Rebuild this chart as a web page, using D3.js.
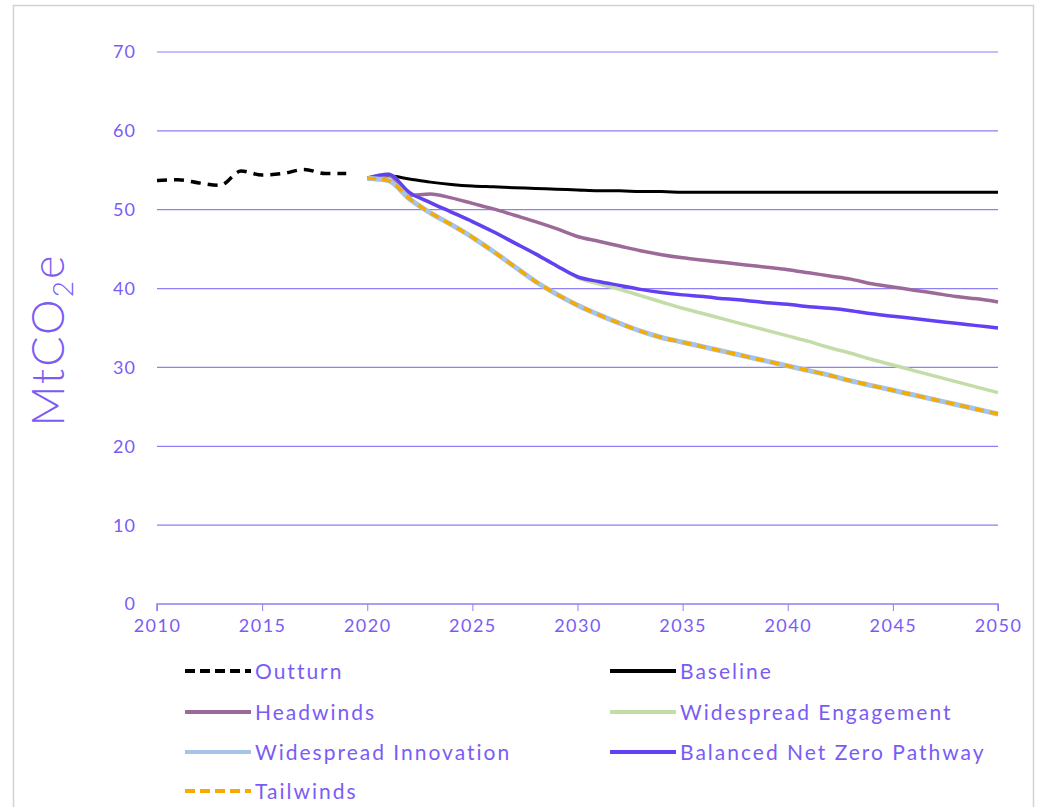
<!DOCTYPE html>
<html><head><meta charset="utf-8">
<script src="https://cdn.jsdelivr.net/npm/d3@7"></script>
<style>
html,body{margin:0;padding:0;background:#fff;}
svg{display:block;font-family:"Lato","DejaVu Sans",sans-serif;}
</style></head>
<body><svg id="c" width="1042" height="807"></svg>
<script>
const outturnYears = [2010,2011,2012,2013,2014,2015,2016,2017,2018,2019];
const outturn = [53.7,53.8,53.4,53.1,54.9,54.4,54.6,55.1,54.6,54.6];
const scenYears = d3.range(2020, 2051);
const baseline = [54.0,54.3,53.9,53.5,53.2,53.0,52.9,52.8,52.7,52.6,52.5,52.4,52.4,52.3,52.3,52.2,52.2,52.2,52.2,52.2,52.2,52.2,52.2,52.2,52.2,52.2,52.2,52.2,52.2,52.2,52.2];
const headwinds = [54.0,54.4,51.8,52.0,51.5,50.8,50.1,49.3,48.5,47.6,46.6,46.0,45.4,44.8,44.3,43.9,43.6,43.3,43.0,42.7,42.4,42.0,41.6,41.2,40.6,40.2,39.8,39.4,39.0,38.7,38.3];
const engagement = [54.0,54.5,52.2,50.9,49.7,48.5,47.2,45.8,44.4,42.9,41.4,40.6,39.9,39.1,38.3,37.5,36.8,36.1,35.4,34.7,34.0,33.3,32.5,31.8,31.0,30.3,29.6,28.9,28.2,27.5,26.8];
const innovation = [54.0,53.7,51.4,49.6,48.1,46.5,44.7,42.8,40.9,39.3,37.9,36.7,35.6,34.6,33.8,33.2,32.6,32.0,31.4,30.8,30.2,29.6,29.0,28.3,27.7,27.1,26.5,25.9,25.3,24.7,24.1];
const balanced = [54.0,54.5,52.2,50.9,49.7,48.5,47.2,45.8,44.4,42.9,41.5,40.9,40.4,39.9,39.5,39.2,39.0,38.7,38.5,38.2,38.0,37.7,37.5,37.2,36.8,36.5,36.2,35.9,35.6,35.3,35.0];
const tailwinds = innovation.slice();
const xTicks = [2010,2015,2020,2025,2030,2035,2040,2045,2050];
const yTicks = [0,10,20,30,40,50,60,70];

const svg = d3.select("#c");
const txt = "#7a5cf5", grid = "#8e7ff2";
svg.append("rect").attr("x",13.5).attr("y",5.5).attr("width",1020).attr("height",820)
  .attr("fill","#fff").attr("stroke","#d2d2d2").attr("stroke-width",1.5);

const x = d3.scaleLinear().domain([2010,2050]).range([157,998]);
const y = d3.scaleLinear().domain([0,70]).range([604,52]);

const g = svg.append("g");
g.selectAll("line.grid").data(yTicks.filter(d=>d>0)).join("line")
  .attr("x1",x(2010)).attr("x2",x(2050)).attr("y1",d=>y(d)).attr("y2",d=>y(d))
  .attr("stroke",grid).attr("stroke-width",1.2);
g.selectAll("text.yl").data(yTicks).join("text")
  .attr("x",136).attr("y",d=>y(d)).attr("dy","0.36em").attr("text-anchor","end")
  .attr("fill",txt).attr("font-size",18).attr("letter-spacing",1).text(d=>d);

const xa = g.append("g").attr("transform",`translate(0,${y(0)})`)
  .call(d3.axisBottom(x).tickValues(xTicks).tickFormat(d3.format("d")).tickSize(7).tickPadding(8));
xa.select(".domain").attr("stroke",grid).attr("stroke-width",1.5).attr("d",`M${x(2010)},7V0H${x(2050)}V7`);
xa.selectAll(".tick line").attr("stroke",grid);
xa.selectAll(".tick text").attr("fill",txt).attr("font-size",18).attr("letter-spacing",1.5)
  .attr("font-family","Lato, DejaVu Sans, sans-serif");

svg.append("text").attr("transform","translate(64,340) rotate(-90)").attr("text-anchor","middle")
  .attr("fill",txt).attr("font-size",45).attr("font-weight",300).attr("letter-spacing",2)
  .html('MtCO<tspan font-size="28" dy="9">2</tspan><tspan dy="-9">e</tspan>');

const line = d3.line().x(d=>x(d[0])).y(d=>y(d[1])).curve(d3.curveMonotoneX);
const zipS = v => scenYears.map((yr,i)=>[yr,v[i]]);
const series = [
  {name:"Baseline", data:zipS(baseline), color:"#000000", w:3, dash:null},
  {name:"Headwinds", data:zipS(headwinds), color:"#9c6a98", w:3.5, dash:null},
  {name:"Widespread Engagement", data:zipS(engagement), color:"#c4dca8", w:3.5, dash:null},
  {name:"Balanced Net Zero Pathway", data:zipS(balanced), color:"#6440f5", w:3.5, dash:null},
  {name:"Widespread Innovation", data:zipS(innovation), color:"#a5c4e8", w:5, dash:null},
  {name:"Tailwinds", data:zipS(tailwinds), color:"#f5ab00", w:3.5, dash:"9,6"},
  {name:"Outturn", data:outturnYears.map((yr,i)=>[yr,outturn[i]]), color:"#000000", w:3.5, dash:"10,7"}
];
g.selectAll("path.s").data(series).join("path")
  .attr("d",d=>line(d.data)).attr("fill","none").attr("stroke",d=>d.color)
  .attr("stroke-width",d=>d.w).attr("stroke-dasharray",d=>d.dash);

const legend = [
  {name:"Outturn", color:"#000000", dash:"10,5", x:185, y:671},
  {name:"Baseline", color:"#000000", dash:null, x:610, y:671},
  {name:"Headwinds", color:"#9c6a98", dash:null, x:185, y:712},
  {name:"Widespread Engagement", color:"#c4dca8", dash:null, x:610, y:712},
  {name:"Widespread Innovation", color:"#a5c4e8", dash:null, x:185, y:752},
  {name:"Balanced Net Zero Pathway", color:"#6440f5", dash:null, x:610, y:752},
  {name:"Tailwinds", color:"#f5ab00", dash:"10,5", x:185, y:791}
];
const lg = svg.selectAll("g.lg").data(legend).join("g").attr("transform",d=>`translate(${d.x},${d.y})`);
lg.append("line").attr("x1",0).attr("x2",66).attr("stroke",d=>d.color).attr("stroke-width",4)
  .attr("stroke-dasharray",d=>d.dash);
lg.append("text").attr("x",70).attr("dy","0.36em").attr("fill",txt).attr("font-size",21)
  .attr("letter-spacing",2.0).text(d=>d.name);
</script></body></html>
